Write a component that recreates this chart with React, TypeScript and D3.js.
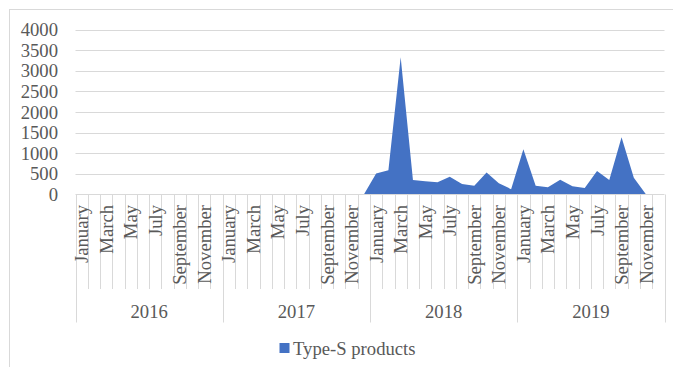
import React from "react";
import * as d3 from "d3";

const years = ["2016", "2017", "2018", "2019"];
const months = [
  "January", "February", "March", "April", "May", "June",
  "July", "August", "September", "October", "November", "December",
];
// Monthly Type-S products, Jan 2016 – Dec 2019
const values2016 = [0, 0, 0, 0, 0, 0, 0, 0, 0, 0, 0, 0];
const values2017 = [0, 0, 0, 0, 0, 0, 0, 0, 0, 0, 0, 0];
const values2018 = [510, 590, 3330, 350, 320, 300, 430, 255, 215, 535, 270, 130];
const values2019 = [1100, 213, 175, 358, 198, 157, 568, 350, 1390, 406, 0, 0];
const yTicks = [0, 500, 1000, 1500, 2000, 2500, 3000, 3500, 4000];
const seriesName = "Type-S products";

const W = 673;
const H = 367;
const FONT = "'Liberation Serif', 'Times New Roman', serif";
const TEXT = "#595959";
const GRID = "#d9d9d9";
const BLUE = "#4472C4";

export default function App() {
  const values = [...values2016, ...values2017, ...values2018, ...values2019];
  const cats = values.map((_, i) => i);
  const x = d3.scaleBand<number>().domain(cats).range([75.5, 664.5]).padding(0);
  const y = d3.scaleLinear().domain([0, 4000]).range([194.5, 29.5]);
  const cx = (i: number) => (x(i) as number) + x.bandwidth() / 2;

  const area = d3
    .area<number>()
    .x((_, i) => cx(i))
    .y0(y(0))
    .y1((d) => y(d))
    .curve(d3.curveLinear);

  const boundaries = d3.range(0, values.length + 1);
  const edge = (i: number) => (i < values.length ? (x(i) as number) : 664.5);

  return (
    <div style={{ position: "fixed", left: 0, top: 0 }}>
      <svg width={W} height={H} style={{ display: "block", background: "#fff" }}>
        <rect x={9.5} y={9.5} width={W + 20} height={H + 20} fill="#fff" stroke={GRID} />
        {yTicks.map((t) => (
          <g key={t}>
            {t > 0 && (
              <line x1={75.5} x2={664.5} y1={Math.round(y(t)) + 0.5} y2={Math.round(y(t)) + 0.5} stroke={GRID} />
            )}
            <text x={58} y={y(t)} dy="0.35em" textAnchor="end" fontFamily={FONT} fontSize={18.67} fill={TEXT}>
              {t}
            </text>
          </g>
        ))}
        <path d={area(values) || ""} fill={BLUE} />
        <line x1={75.5} x2={664.5} y1={194.5} y2={194.5} stroke={GRID} />
        {boundaries.map((i) => {
          const px = Math.round(edge(i)) + 0.5;
          const isYear = i % 12 === 0;
          return <line key={i} x1={px} x2={px} y1={194.5} y2={isYear ? 322.5 : 289} stroke={GRID} />;
        })}
        {cats
          .filter((i) => i % 2 === 0)
          .map((i) => (
            <text
              key={i}
              transform={`translate(${cx(i)},205) rotate(-90)`}
              textAnchor="end"
              dominantBaseline="central"
              fontFamily={FONT}
              fontSize={18.67}
              fill={TEXT}
            >
              {months[i % 12]}
            </text>
          ))}
        {years.map((yr, k) => {
          const mid = (edge(k * 12) + edge(k * 12 + 12)) / 2;
          return (
            <text key={yr} x={mid} y={318} textAnchor="middle" fontFamily={FONT} fontSize={18.67} fill={TEXT}>
              {yr}
            </text>
          );
        })}
        <rect x={279.5} y={343} width={10} height={10} fill={BLUE} />
        <text x={293} y={354.5} fontFamily={FONT} fontSize={18.67} fill={TEXT}>
          {seriesName}
        </text>
      </svg>
    </div>
  );
}
